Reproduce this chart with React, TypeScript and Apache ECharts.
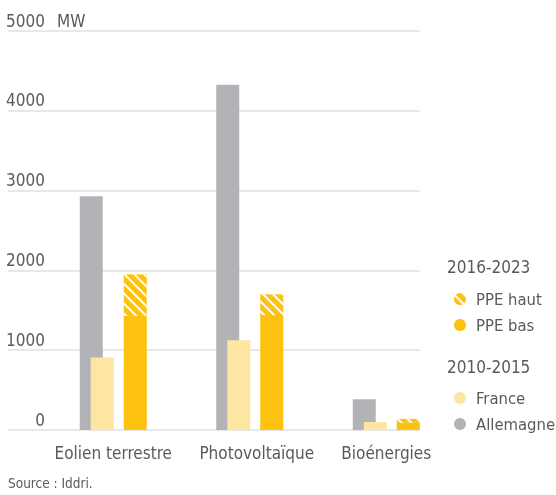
import React, { useEffect, useRef } from "react";
import * as echarts from "echarts";

const categories = ["Eolien terrestre", "Photovoltaïque", "Bioénergies"];
const allemagne = [2930, 4325, 385];
const france = [910, 1125, 100];
const ppeBas = [1430, 1440, 90];
const ppeHaut = [1950, 1700, 140];
const yTicks = [0, 1000, 2000, 3000, 4000, 5000];

const FONT = "'DejaVu Sans Condensed', 'Liberation Sans Narrow', sans-serif";
const TXT = "#5a5a5a";
const GRAY = "#b2b3b7";
const LIGHT = "#fde6a1";
const GOLD = "#fdc110";

export default function App() {
  const ref = useRef<HTMLDivElement>(null);
  useEffect(() => {
    if (!ref.current) return;
    const chart = echarts.init(ref.current, null, { renderer: "svg" });
    const hautDiff = ppeHaut.map((v, i) => v - ppeBas[i]);
    const decal = {
      symbol: "rect",
      symbolSize: 1,
      color: "#ffffff",
      dashArrayX: [1, 0],
      dashArrayY: [1.3, 4.7],
      rotation: Math.PI / 4,
    };
    const gap = "-52.17%";
    const common = { xAxisIndex: 1, yAxisIndex: 1, barWidth: 23, barGap: gap, silent: true };
    const legendText = { color: TXT, fontSize: 16.5, fontFamily: FONT, lineHeight: 20, padding: [0, 0, 0, 5] };
    chart.setOption({
      animation: false,
      textStyle: { fontFamily: FONT },
      grid: [
        { left: 8, right: 136, top: 31, bottom: 65 },
        { left: 45, right: 101.5, top: 31, bottom: 65 },
      ],
      xAxis: [
        { gridIndex: 0, type: "value", show: false, min: 0, max: 1 },
        {
          gridIndex: 1,
          type: "category",
          data: categories,
          axisLine: { show: false },
          axisTick: { show: false },
          axisLabel: {
            color: TXT,
            fontSize: 17,
            fontFamily: FONT,
            margin: 14,
            interval: 0,
            formatter: (v: string) => (v === "Photovoltaïque" ? "{p|" + v + "}" : v),
            rich: { p: { color: TXT, fontSize: 17, fontFamily: FONT, padding: [0, 0, 0, 14] } },
          },
        },
      ],
      yAxis: [
        {
          gridIndex: 0,
          type: "value",
          min: 0,
          max: 5000,
          interval: 1000,
          name: "MW",
          nameLocation: "end",
          nameGap: 0,
          nameTextStyle: {
            color: TXT,
            fontSize: 17,
            fontFamily: FONT,
            align: "left",
            verticalAlign: "bottom",
            padding: [0, 0, 2, 49],
          },
          axisLine: { show: false },
          axisTick: { show: false },
          splitLine: { show: true, lineStyle: { color: "#e0e0e0", width: 1.5 } },
          axisLabel: {
            inside: true,
            margin: 37,
            align: "right",
            verticalAlign: "bottom",
            padding: [0, 0, 2, 0],
            color: TXT,
            fontSize: 17,
            fontFamily: FONT,
            formatter: (v: number) => (yTicks.includes(v) ? String(v) : ""),
          },
        },
        { gridIndex: 1, type: "value", min: 0, max: 5000, show: false, splitLine: { show: false } },
      ],
      legend: [
        {
          data: ["PPE haut", "PPE bas"],
          orient: "vertical",
          left: 449,
          top: 284,
          icon: "circle",
          itemWidth: 12,
          itemHeight: 12,
          itemGap: 6,
          selectedMode: false,
          textStyle: legendText,
        },
        {
          data: ["France", "Allemagne"],
          orient: "vertical",
          left: 449,
          top: 383,
          icon: "circle",
          itemWidth: 12,
          itemHeight: 12,
          itemGap: 6,
          selectedMode: false,
          textStyle: legendText,
        },
      ],
      graphic: [
        { type: "text", left: 447, top: 258, style: { text: "2016-2023", fill: TXT, fontSize: 17, fontFamily: FONT } },
        { type: "text", left: 447, top: 358, style: { text: "2010-2015", fill: TXT, fontSize: 17, fontFamily: FONT } },
        { type: "text", left: 8, top: 476, style: { text: "Source : Iddri.", fill: TXT, fontSize: 13.5, fontFamily: FONT } },
      ],
      series: [
        { ...common, name: "Allemagne", type: "bar", data: allemagne, itemStyle: { color: GRAY } },
        { ...common, name: "France", type: "bar", data: france, itemStyle: { color: LIGHT } },
        { ...common, name: "_s1", type: "bar", data: categories.map(() => "-") },
        { ...common, name: "_s2", type: "bar", data: categories.map(() => "-") },
        { ...common, name: "PPE bas", type: "bar", stack: "ppe", data: ppeBas, itemStyle: { color: GOLD } },
        { ...common, name: "PPE haut", type: "bar", stack: "ppe", data: hautDiff, itemStyle: { color: GOLD, decal } },
      ],
    });
    return () => chart.dispose();
  }, []);
  return <div ref={ref} style={{ position: "fixed", left: 0, top: 0, width: 556, height: 495 }} />;
}
